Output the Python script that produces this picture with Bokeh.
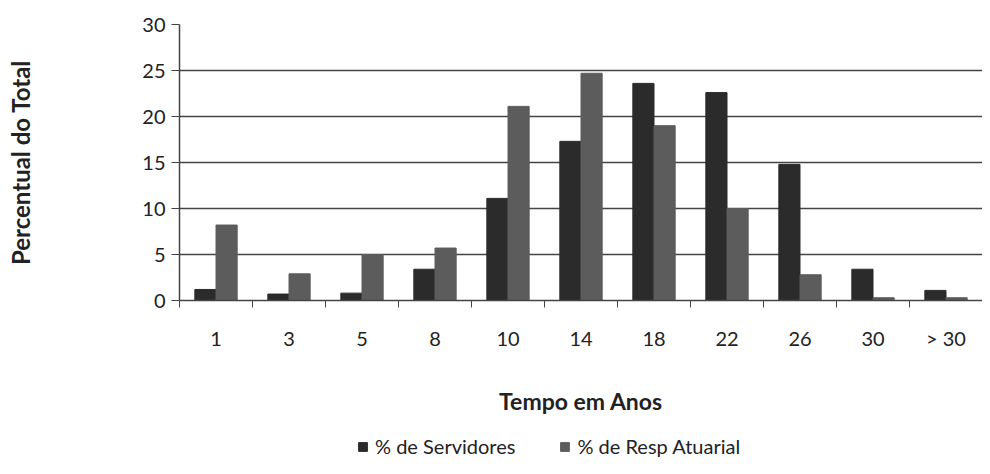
import numpy as np
from bokeh.plotting import figure
from bokeh.layouts import column
from bokeh.models import (ColumnDataSource, FixedTicker, Range1d, Legend, LegendItem)
from bokeh.embed import file_html
from bokeh.resources import INLINE

categories = ["1", "3", "5", "8", "10", "14", "18", "22", "26", "30", "> 30"]
servidores = [1.2, 0.7, 0.8, 3.4, 11.1, 17.3, 23.6, 22.6, 14.8, 3.4, 1.1]
resp_atuarial = [8.2, 2.9, 5.0, 5.7, 21.1, 24.7, 19.0, 10.0, 2.8, 0.3, 0.3]
y_ticks = [0, 5, 10, 15, 20, 25, 30]
series_names = ["% de Servidores", "% de Resp Atuarial"]

FONT = "Lato"
TXT = "#222222"
C_SERV = "#2b2b2b"
C_RESP = "#5c5c5c"
n = len(categories)
centers = np.arange(n) + 0.5
bar_w = 0.29

src = ColumnDataSource(dict(
    xs=centers - bar_w / 2,
    xr=centers + bar_w / 2,
    serv=servidores,
    resp=resp_atuarial,
))

p = figure(width=982, height=432, output_backend="svg", toolbar_location=None,
           x_range=Range1d(0, n), y_range=Range1d(0, 30),
           min_border_left=179, min_border_right=0, min_border_top=24,
           min_border_bottom=132)
p.outline_line_color = None
p.background_fill_color = "white"
p.border_fill_color = "white"

p.vbar(x="xs", top="serv", width=bar_w, source=src, fill_color=C_SERV, line_color=C_SERV)
p.vbar(x="xr", top="resp", width=bar_w, source=src, fill_color=C_RESP, line_color=C_RESP)

# y axis
p.yaxis.ticker = FixedTicker(ticks=y_ticks)
p.yaxis.axis_label = "Percentual do Total"
p.yaxis.axis_label_text_font = FONT
p.yaxis.axis_label_text_font_style = "bold"
p.yaxis.axis_label_text_font_size = "24px"
p.yaxis.axis_label_text_color = TXT
p.yaxis.axis_label_standoff = 104
p.yaxis.major_label_text_font = FONT
p.yaxis.major_label_text_font_size = "20px"
p.yaxis.major_label_text_color = TXT
p.yaxis.major_label_standoff = 6
p.yaxis.major_tick_out = 8
p.yaxis.major_tick_in = 0
p.yaxis.minor_tick_line_color = None
p.yaxis.axis_line_color = "#444444"
p.yaxis.axis_line_width = 1.5
p.yaxis.major_tick_line_color = "#444444"

# x axis
p.xaxis.ticker = FixedTicker(ticks=list(centers), minor_ticks=list(np.arange(n + 1)))
p.xaxis.major_label_overrides = {float(c): lab for c, lab in zip(centers, categories)}
p.xaxis.axis_label = "Tempo em Anos"
p.xaxis.axis_label_text_font = FONT
p.xaxis.axis_label_text_font_style = "bold"
p.xaxis.axis_label_text_font_size = "23px"
p.xaxis.axis_label_text_color = TXT
p.xaxis.axis_label_standoff = 34
p.xaxis.major_label_text_font = FONT
p.xaxis.major_label_text_font_size = "20px"
p.xaxis.major_label_text_color = TXT
p.xaxis.major_label_standoff = 18
p.xaxis.major_tick_line_color = None
p.xaxis.major_tick_out = 0
p.xaxis.major_tick_in = 0
p.xaxis.minor_tick_out = 7
p.xaxis.minor_tick_in = 0
p.xaxis.minor_tick_line_color = "#444444"
p.xaxis.axis_line_color = "#444444"
p.xaxis.axis_line_width = 1.5

# grid
p.xgrid.grid_line_color = None
p.ygrid.ticker = FixedTicker(ticks=y_ticks)
p.ygrid.grid_line_color = "#444444"
p.ygrid.grid_line_width = 1.5

# legend strip below the chart (its renderers use the same data, kept out of view)
lg = figure(width=982, height=26, output_backend="svg", toolbar_location=None,
            x_range=Range1d(0, n), y_range=Range1d(100, 101),
            min_border_left=179, min_border_right=0, min_border_top=0, min_border_bottom=0)
lg.outline_line_color = None
lg.axis.visible = False
lg.grid.visible = False
e1 = lg.vbar(x="xs", top="serv", width=bar_w, source=src, fill_color=C_SERV, line_color=C_SERV)
e2 = lg.vbar(x="xr", top="resp", width=bar_w, source=src, fill_color=C_RESP, line_color=C_RESP)
legend = Legend(items=[LegendItem(label=series_names[0], renderers=[e1]),
                       LegendItem(label=series_names[1], renderers=[e2])],
                orientation="horizontal", location=(178, 0),
                label_text_font=FONT, label_text_font_size="20px",
                label_text_color=TXT, label_height=22,
                glyph_width=11, glyph_height=11, label_standoff=7,
                spacing=44, border_line_color=None, background_fill_alpha=0,
                padding=0, margin=0)
lg.add_layout(legend, "center")

layout = column(p, lg, spacing=0)
open("out.html", "w").write(file_html(layout, INLINE))
